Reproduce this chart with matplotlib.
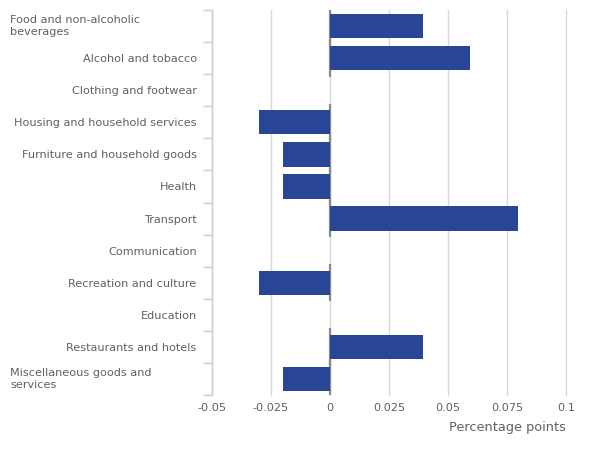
import matplotlib
matplotlib.use("Agg")
import matplotlib.pyplot as plt
import matplotlib.transforms as mtransforms
import numpy as np

categories = [
    "Food and non-alcoholic\nbeverages",
    "Alcohol and tobacco",
    "Clothing and footwear",
    "Housing and household services",
    "Furniture and household goods",
    "Health",
    "Transport",
    "Communication",
    "Recreation and culture",
    "Education",
    "Restaurants and hotels",
    "Miscellaneous goods and\nservices",
]
values = [0.0395, 0.0595, 0.0, -0.03, -0.02, -0.02, 0.0795, 0.0, -0.03, 0.0, 0.0395, -0.02]
xticks = [-0.05, -0.025, 0, 0.025, 0.05, 0.075, 0.1]
xticklabels = ["-0.05", "-0.025", "0", "0.025", "0.05", "0.075", "0.1"]
xlabel = "Percentage points"

TXT = "#606060"
BAR = "#284596"
FS = 8.1

fig = plt.figure(figsize=(6, 4.5), dpi=100)
ax = fig.add_axes([212/600, 1-395/450, (566-212)/600, (395-10)/450])

y = np.arange(len(categories))
bar_h = 0.76
ax.barh(y, values, height=bar_h, color=BAR, zorder=3)

# zero-side gray markers on non-zero bars
for yi, v in zip(y, values):
    if v != 0:
        ax.vlines(0, yi - bar_h/2 - 0.2, yi + bar_h/2 + 0.2, color="#8a8a8a",
                  linewidth=1.6, zorder=2)

ax.set_xlim(-0.05, 0.1)
ax.set_ylim(len(categories) - 0.5, -0.5)

ax.set_xticks(xticks)
ax.set_xticklabels(xticklabels, fontsize=FS, color=TXT)
ax.tick_params(axis="x", length=0, pad=6)
ax.grid(axis="x", color="#d8d8d8", linewidth=1, zorder=0)
for gl in ax.get_xgridlines():
    gl.set_clip_on(False)

ax.set_yticks(y)
labels = [c if "\n" not in c else "" for c in categories]
ax.set_yticklabels(labels, fontsize=FS, color=TXT)
ax.tick_params(axis="y", which="major", length=0, pad=11)
ax.set_yticks(np.arange(-0.5, len(categories), 1), minor=True)
ax.tick_params(axis="y", which="minor", length=6.5, color="#c0d0e0", width=1)

trans = mtransforms.blended_transform_factory(fig.transFigure, ax.transData)
for yi, c in zip(y, categories):
    if "\n" in c:
        ax.text(10/600, yi, c, transform=trans, ha="left", va="center",
                fontsize=FS, color=TXT, linespacing=1.35)

for s in ["top", "right", "bottom"]:
    ax.spines[s].set_visible(False)
ax.spines["left"].set_color("#c0d0e0")
ax.spines["left"].set_linewidth(1)

fig.text(566/600, 1-428/450, xlabel, ha="right", va="center", fontsize=9.3, color=TXT)

fig.savefig("out.png", dpi=100)
